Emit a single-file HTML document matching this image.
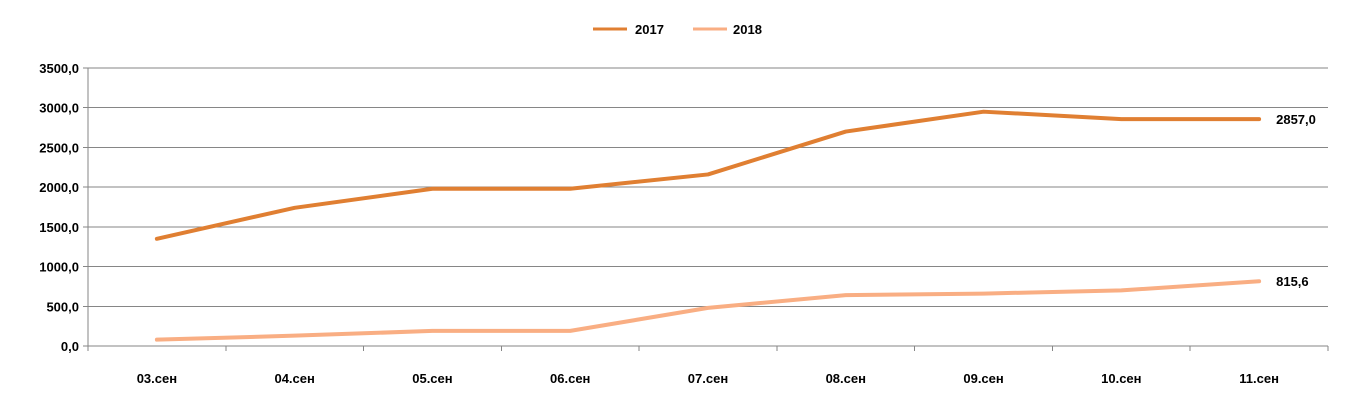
<!DOCTYPE html>
<html><head><meta charset="utf-8"><style>
html,body{margin:0;padding:0;background:#fff;}
svg{display:block;font-family:"Liberation Sans",Arial,sans-serif;font-weight:bold;font-size:13px;fill:#000;}
</style></head><body>
<svg id="chart" width="1352" height="409" viewBox="0 0 1352 409" xmlns="http://www.w3.org/2000/svg">
<g id="grid"></g>
<g id="axes"></g>
<g id="series"></g>
<g id="legend">
<line x1="593" y1="29" x2="627" y2="29" stroke="#E07F32" stroke-width="3"/>
<text x="635" y="34">2017</text>
<line x1="693" y1="29" x2="727" y2="29" stroke="#F9AE83" stroke-width="3"/>
<text x="733" y="34">2018</text>
</g>
</svg>
<script>
const categories = ["03.сен","04.сен","05.сен","06.сен","07.сен","08.сен","09.сен","10.сен","11.сен"];
const values2017 = [1350,1740,1980,1980,2160,2700,2950,2857,2857];
const values2018 = [80,130,190,190,480,640,660,700,815.6];
const yTicks = [0,500,1000,1500,2000,2500,3000,3500];
const NS="http://www.w3.org/2000/svg";
const L=88,R=1328,T=68,B=346,YMAX=3500;
const step=(R-L)/categories.length;
const x=i=>L+step*(i+0.5);
const y=v=>B-(v/YMAX)*(B-T);
const fmt=v=>v.toFixed(1).replace('.',',');
function mk(tag,attrs,parent){const e=document.createElementNS(NS,tag);for(const k in attrs)e.setAttribute(k,attrs[k]);parent.appendChild(e);return e;}
const grid=document.getElementById('grid'),axes=document.getElementById('axes'),series=document.getElementById('series');
yTicks.forEach(t=>{
  const g=mk('line',{x1:L,x2:R,y1:y(t),y2:y(t),stroke:'#868686','stroke-width':1,'shape-rendering':'crispEdges'},grid);
  
  
  const tk=mk('line',{x1:L-5,x2:L,y1:y(t),y2:y(t),stroke:'#868686','shape-rendering':'crispEdges'},axes);
  
  
  const lb=mk('text',{x:L-9,y:y(t)+5,'text-anchor':'end'},axes);
  lb.textContent=fmt(t);
  
  
});
const ya=mk('line',{x1:L,x2:L,y1:T,y2:B,stroke:'#868686','shape-rendering':'crispEdges'},axes);


for(let i=0;i<=categories.length;i++){
  const xx=L+step*i;
  const tk=mk('line',{x1:xx,x2:xx,y1:B,y2:B+5,stroke:'#868686','shape-rendering':'crispEdges'},axes);
  
  
}
categories.forEach((c,i)=>{
  const lb=mk('text',{x:x(i),y:383,'text-anchor':'middle'},axes);
  lb.textContent=c;
  
  
});
function line(vals,color,name){
  const p=mk('polyline',{points:vals.map((v,i)=>x(i)+','+y(v)).join(' '),fill:'none',stroke:color,'stroke-width':4,'stroke-linejoin':'round','stroke-linecap':'round'},series);
  
  
  const n=vals.length-1;
  const t=mk('text',{x:x(n)+17,y:y(vals[n])+5},series);
  t.textContent=fmt(vals[n]);
  
  
}
line(values2017,'#E07F32','line-2017');
line(values2018,'#F9AE83','line-2018');
</script>
</body></html>
